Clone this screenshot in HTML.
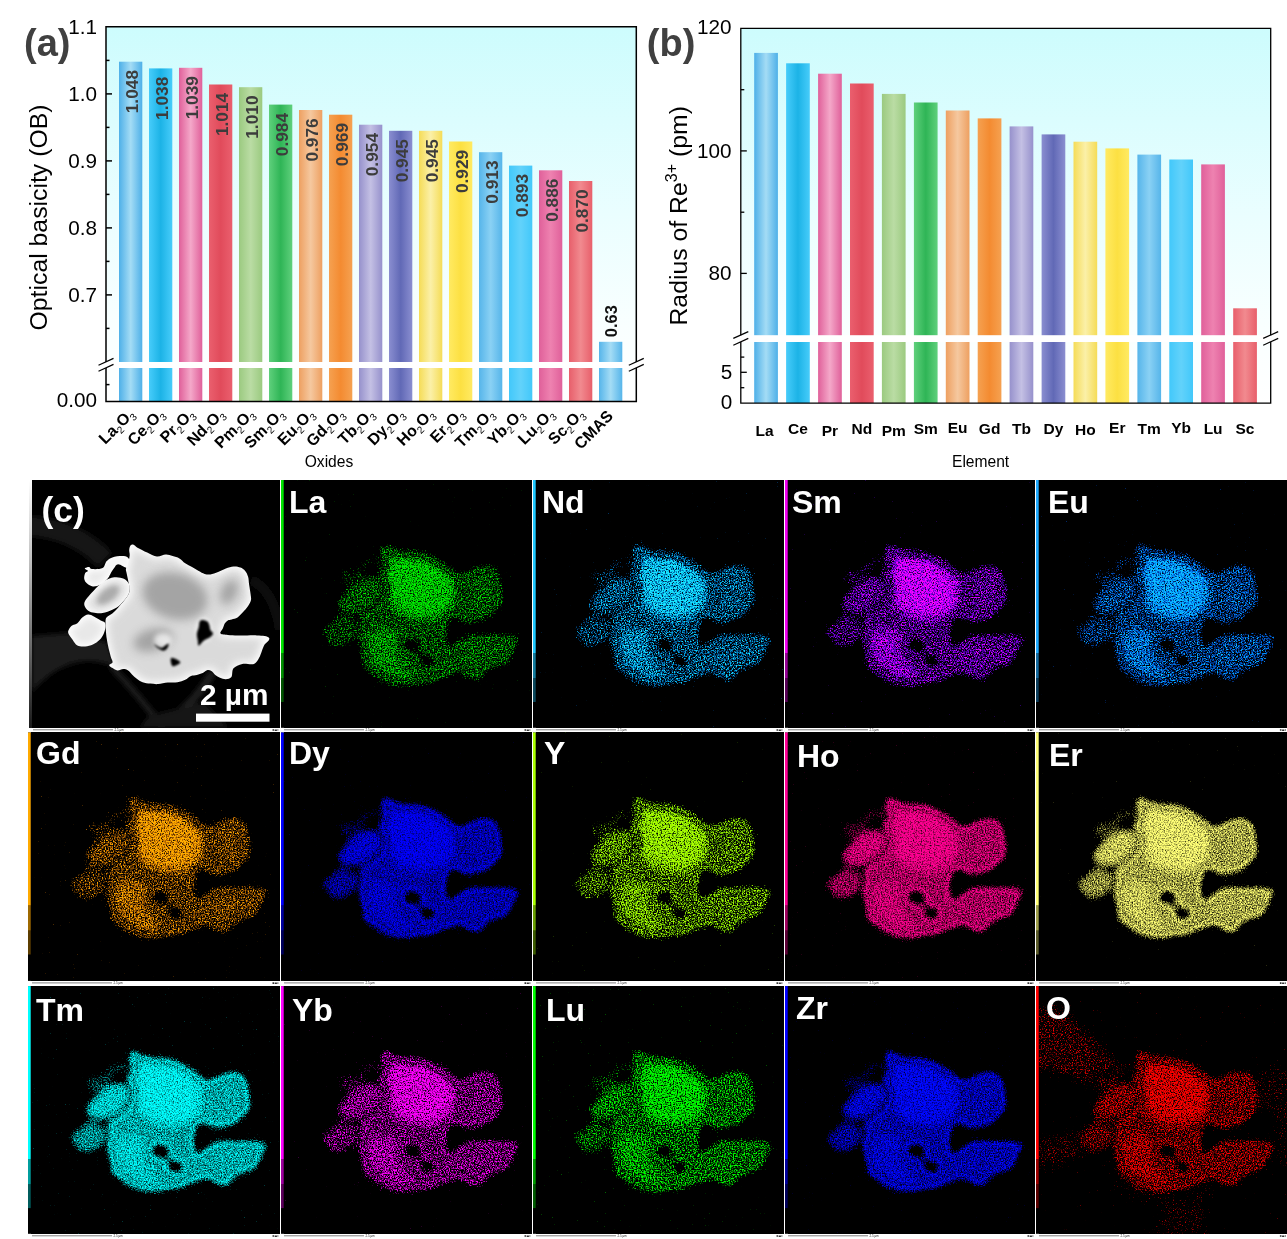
<!DOCTYPE html>
<html lang="en"><head><meta charset="utf-8"><title>Figure</title>
<style>
html,body{margin:0;padding:0;background:#fff;}
body{width:1287px;height:1239px;overflow:hidden;font-family:"Liberation Sans",sans-serif;}
svg{display:block;}
text{font-family:"Liberation Sans",sans-serif;}
.b{font-weight:bold;}
</style></head><body>
<svg width="1287" height="1239" viewBox="0 0 1287 1239">
<defs>
<linearGradient id="gLa" x1="0" x2="1" y1="0" y2="0"><stop offset="0" stop-color="#4eb0e8"/><stop offset="0.5" stop-color="#a4dcf5"/><stop offset="1" stop-color="#4eb0e8"/></linearGradient>
<linearGradient id="gCe" x1="0" x2="1" y1="0" y2="0"><stop offset="0" stop-color="#47ccfa"/><stop offset="0.5" stop-color="#1cb3e6"/><stop offset="1" stop-color="#47ccfa"/></linearGradient>
<linearGradient id="gPr" x1="0" x2="1" y1="0" y2="0"><stop offset="0" stop-color="#e0609a"/><stop offset="0.5" stop-color="#f4a8c9"/><stop offset="1" stop-color="#e0609a"/></linearGradient>
<linearGradient id="gNd" x1="0" x2="1" y1="0" y2="0"><stop offset="0" stop-color="#ea5f6e"/><stop offset="0.5" stop-color="#e14b5b"/><stop offset="1" stop-color="#ea5f6e"/></linearGradient>
<linearGradient id="gPm" x1="0" x2="1" y1="0" y2="0"><stop offset="0" stop-color="#9bca80"/><stop offset="0.5" stop-color="#badca4"/><stop offset="1" stop-color="#9bca80"/></linearGradient>
<linearGradient id="gSm" x1="0" x2="1" y1="0" y2="0"><stop offset="0" stop-color="#5fd07c"/><stop offset="0.5" stop-color="#2fb556"/><stop offset="1" stop-color="#5fd07c"/></linearGradient>
<linearGradient id="gEu" x1="0" x2="1" y1="0" y2="0"><stop offset="0" stop-color="#eea061"/><stop offset="0.5" stop-color="#f5c89f"/><stop offset="1" stop-color="#eea061"/></linearGradient>
<linearGradient id="gGd" x1="0" x2="1" y1="0" y2="0"><stop offset="0" stop-color="#f5a151"/><stop offset="0.5" stop-color="#f48b31"/><stop offset="1" stop-color="#f5a151"/></linearGradient>
<linearGradient id="gTb" x1="0" x2="1" y1="0" y2="0"><stop offset="0" stop-color="#9691cc"/><stop offset="0.5" stop-color="#c4c0e4"/><stop offset="1" stop-color="#9691cc"/></linearGradient>
<linearGradient id="gDy" x1="0" x2="1" y1="0" y2="0"><stop offset="0" stop-color="#8a8ed0"/><stop offset="0.5" stop-color="#6169b6"/><stop offset="1" stop-color="#8a8ed0"/></linearGradient>
<linearGradient id="gHo" x1="0" x2="1" y1="0" y2="0"><stop offset="0" stop-color="#f5dc57"/><stop offset="0.5" stop-color="#fbf0a8"/><stop offset="1" stop-color="#f5dc57"/></linearGradient>
<linearGradient id="gEr" x1="0" x2="1" y1="0" y2="0"><stop offset="0" stop-color="#ffea62"/><stop offset="0.5" stop-color="#fce042"/><stop offset="1" stop-color="#ffea62"/></linearGradient>
<linearGradient id="gTm" x1="0" x2="1" y1="0" y2="0"><stop offset="0" stop-color="#56b5ea"/><stop offset="0.5" stop-color="#8ad1f4"/><stop offset="1" stop-color="#56b5ea"/></linearGradient>
<linearGradient id="gYb" x1="0" x2="1" y1="0" y2="0"><stop offset="0" stop-color="#42c8fa"/><stop offset="0.5" stop-color="#62d2fa"/><stop offset="1" stop-color="#42c8fa"/></linearGradient>
<linearGradient id="gLu" x1="0" x2="1" y1="0" y2="0"><stop offset="0" stop-color="#e0609a"/><stop offset="0.5" stop-color="#ee82b0"/><stop offset="1" stop-color="#e0609a"/></linearGradient>
<linearGradient id="gSc" x1="0" x2="1" y1="0" y2="0"><stop offset="0" stop-color="#e85f6b"/><stop offset="0.5" stop-color="#f18a8f"/><stop offset="1" stop-color="#e85f6b"/></linearGradient>
<linearGradient id="gCMAS" x1="0" x2="1" y1="0" y2="0"><stop offset="0" stop-color="#56b5ea"/><stop offset="0.5" stop-color="#a4dcf5"/><stop offset="1" stop-color="#56b5ea"/></linearGradient>
<linearGradient id="bg" x1="0" x2="0" y1="0" y2="1"><stop offset="0" stop-color="#cdfcfd"/><stop offset="0.5" stop-color="#eafeff"/><stop offset="0.8" stop-color="#f9ffff"/><stop offset="1" stop-color="#ffffff"/></linearGradient>
<path id="sM" d="M101.7 65.3C102.4 64.5 103.5 64.4 104.6 64.8C105.7 65.2 106.2 66.4 108.5 67.7C110.8 69 115 71.1 118.2 72.6C121.4 74.1 124.8 76.2 127.9 76.5C131 76.8 134.2 74.6 136.8 74.5C139.4 74.4 141.3 75.4 143.6 76C145.9 76.6 148.3 77.2 150.4 78.4C152.5 79.6 154.1 81.8 156.2 83.2C158.3 84.7 160.8 85.8 163 87.1C165.2 88.4 167.6 89.9 169.7 91C171.8 92.1 173.6 93.3 175.6 93.9C177.6 94.5 179.2 94.7 181.4 94.4C183.7 94.1 186.5 93 189.1 92C191.7 91 194.3 89.5 196.9 88.6C199.5 87.7 202.2 86.8 204.6 86.6C207 86.4 209.5 86.9 211.4 87.6C213.3 88.3 214.9 89.5 216.2 91C217.5 92.5 218.4 94.5 219.1 96.8C219.8 99.1 219.7 101.7 220.1 104.6C220.5 107.5 221.3 111.6 221.6 114.2C221.9 116.8 222.4 118.1 222 120C221.6 121.9 220.4 123.9 219.1 125.9C217.8 127.8 216.1 129.8 214.3 131.7C212.5 133.6 210.4 136.2 208.5 137.5C206.6 138.8 204.3 138.9 202.7 139.4C201.1 139.9 199.9 139.7 198.8 140.4C197.7 141 196.7 142 195.9 143.3C195.1 144.6 194.7 146.4 194 148.1C193.3 149.8 190.7 152.4 191.5 153.5C192.3 154.6 196 154.6 198.8 154.9C201.6 155.2 205.3 155.3 208.5 155.4C211.7 155.5 215 155.4 218.2 155.4C221.4 155.4 225 155.3 227.9 155.4C230.8 155.5 233.6 155.5 235.6 155.9C237.6 156.3 239.3 157 240 157.8C240.7 158.6 240.2 159.6 239.5 160.7C238.8 161.8 236.7 162.8 235.6 164.6C234.5 166.4 233.6 169.2 232.7 171.4C231.8 173.6 231.3 175.9 230 178C228.7 180.1 227.8 182.9 225 183.9C222.2 184.9 216.7 183.2 213.3 183.9C209.9 184.6 206.3 186.1 204.5 188.3C202.7 190.5 203.7 195.2 202.4 197C201.1 198.8 198.7 199.1 196.8 199.2C194.9 199.3 192.8 198.5 191 197.8C189.2 197.1 187.7 196 186.3 194.9C184.9 193.8 183.7 191.8 182.4 191C181.1 190.2 179.9 189.7 178.5 190C177.1 190.3 175.5 192.2 173.7 193C171.9 193.8 169.8 194.4 167.8 194.9C165.9 195.4 163.9 195.1 162 195.9C160.1 196.7 158.4 198.7 156.2 199.7C153.9 200.8 151.4 201.7 148.5 202.2C145.6 202.7 142 202.3 138.8 202.6C135.6 202.9 132 203.9 129.1 204.1C126.2 204.3 124 203.9 121.4 203.6C118.8 203.3 115.9 203 113.6 202.2C111.3 201.4 109.6 200.1 107.8 198.8C106 197.5 104.5 195.8 103 194.4C101.5 193 100.6 191.4 99.1 190.5C97.6 189.6 96 189.1 94.2 189.1C92.4 189.1 90.2 190.7 88.4 190.5C86.6 190.3 85 189 83.6 188.1C82.2 187.2 80.2 186.2 80.2 185.2C80.2 184.2 83.3 183.7 83.6 182.3C83.8 180.8 82.3 178.8 81.7 176.5C81.1 174.2 80.4 171.6 79.7 168.7C79 165.8 78.3 162.3 77.8 159.1C77.3 155.9 77 152.2 76.8 149.4C76.6 146.6 76.4 144.3 76.5 142.3C76.6 140.3 76.4 138.9 77.5 137.5C78.6 136.1 81.4 135.2 83.3 133.6C85.2 132 86.7 130.5 89.1 127.8C91.5 125 95.9 120 97.8 117.1C99.7 114.2 100.4 112.6 100.7 110.4C101 108.1 100.3 106.4 99.8 103.6C99.3 100.9 98.3 96.3 97.8 93.9C97.3 91.5 96.7 90.7 96.9 89.1C97.1 87.5 98.2 86.5 98.8 84.2C99.4 81.9 100.5 77.9 100.7 75.5C100.9 73.1 100 71.4 100.2 69.7C100.4 68 101 66.1 101.7 65.3Z"/>
<path id="sW" d="M56.2 88.1C56.9 87.8 59 86.9 60.1 87.1C61.2 87.3 60.8 88.9 63 89.1C65.2 89.3 71.2 89.4 73.6 88.1C76 86.8 75.9 83.1 77.5 81.3C79.1 79.5 80.7 78.3 83.3 77.4C85.9 76.5 90.4 76 93 76C95.6 76 97.5 76.3 98.8 77.4C100.1 78.4 101 80.5 101 82.3C101 84.1 101 87.8 99 88.1C97 88.4 91.4 84.2 89.1 84.2C86.8 84.2 86.5 86.5 85.2 88.1C83.9 89.7 82.5 92.1 81.4 93.9C80.3 95.7 80.1 96.9 78.5 98.7C76.9 100.5 74.1 103.3 71.7 104.6C69.3 105.9 66.2 106.7 63.9 106.5C61.6 106.3 59.5 104.9 58.1 103.6C56.6 102.3 55.5 100.5 55.2 98.7C54.9 96.9 55.6 94.2 56.2 92.9C56.9 91.6 59.1 91.6 59.1 91C59.1 90.4 56.7 89.6 56.2 89.1C55.7 88.6 55.6 88.4 56.2 88.1Z"/>
<path id="sE" d="M55.2 123.9C55.2 122 56.5 120.4 58.1 118.1C59.7 115.9 62.2 113.1 64.9 110.4C67.7 107.6 71.2 103.8 74.6 101.6C78 99.4 81.8 97.8 85.2 97.3C88.6 96.8 92.5 97.7 94.9 98.7C97.3 99.8 98.8 101.7 99.8 103.6C100.8 105.6 101 108.1 100.7 110.4C100.4 112.6 99.4 114.7 97.8 117.1C96.2 119.5 93.4 122.8 91 124.9C88.6 127 86.2 128.3 83.3 129.7C80.4 131.1 76.8 132.6 73.6 133.1C70.4 133.6 66.5 133.2 63.9 132.6C61.3 132 59.5 131.2 58.1 129.7C56.6 128.3 55.2 125.8 55.2 123.9Z"/>
<path id="sL" d="M39.2 153C38.7 151.1 40 149.4 40.7 148.1C41.4 146.8 42.3 146 43.6 145.2C44.9 144.4 46.8 144.6 48.4 143.3C50 142 51.5 138.9 53.3 137.5C55.1 136.1 57.2 134.8 59.1 134.6C61 134.4 62.8 135.5 64.9 136.5C67 137.5 69.9 139.4 71.7 140.4C73.5 141.4 74.8 141.2 75.6 142.3C76.4 143.4 76.7 145.3 76.5 147.2C76.3 149.1 75.6 151.8 74.6 153.9C73.6 156 72.5 158 70.7 159.8C68.9 161.6 66.3 163.5 63.9 164.6C61.5 165.7 58.8 166.3 56.2 166.5C53.6 166.7 50.5 166.7 48.4 165.6C46.3 164.5 45.1 161.9 43.6 159.8C42.1 157.7 39.7 154.9 39.2 153Z"/>
<path id="sG" d="M170.7 141.4C171.3 140.2 172.3 139.9 173.6 139.9C174.9 139.9 177.4 140.5 178.5 141.4C179.6 142.3 179.9 143.8 180.4 145.2C180.9 146.7 180.8 148.7 181.4 150.1C182 151.5 184 152.4 184 153.5C184 154.6 183 155.7 181.4 156.9C179.8 158.1 176.6 159.3 174.6 160.7C172.6 162.2 170.7 165.6 169.7 165.6C168.7 165.6 169.1 162.7 168.8 160.7C168.5 158.8 167.7 156.1 167.8 153.9C168 151.6 169.2 149.3 169.7 147.2C170.2 145.1 170 142.6 170.7 141.4Z"/>
<path id="sH1" d="M125.2 164.4C125.2 164.6 127.6 167.2 129.1 168.3C130.6 169.3 132.6 170.6 134 170.7C135.4 170.8 136.8 169.8 137.8 168.7C138.8 167.6 140 164.5 139.8 163.9C139.7 163.3 138 164.2 136.9 164.9C135.8 165.5 134.3 167.5 133 167.8C131.7 168.1 130.4 167.4 129.1 166.8C127.8 166.2 125.2 164.1 125.2 164.4Z"/>
<path id="sH2" d="M142.2 177.9C143.5 177.2 151.2 180.9 151.4 182.3C151.6 183.7 145.1 186.9 143.6 186.2C142.1 185.5 140.9 178.5 142.2 177.9Z"/>
<filter id="sem" x="-10%" y="-10%" width="120%" height="120%" color-interpolation-filters="sRGB">
<feMorphology in="SourceAlpha" operator="erode" radius="2" result="er"/>
<feGaussianBlur in="er" stdDeviation="4.5" result="inner"/>
<feFlood flood-color="#bcbcbc" flood-opacity="0.55"/>
<feComposite in2="inner" operator="in" result="shade"/>
<feGaussianBlur in="SourceGraphic" stdDeviation="0.7" result="src"/>
<feComposite in="shade" in2="src" operator="atop"/>
</filter>
<filter id="semL" x="-10%" y="-10%" width="120%" height="120%" color-interpolation-filters="sRGB">
<feMorphology in="SourceAlpha" operator="erode" radius="2" result="er"/>
<feGaussianBlur in="er" stdDeviation="3.5" result="inner"/>
<feFlood flood-color="#d8d8d8" flood-opacity="0.6"/>
<feComposite in2="inner" operator="in" result="shade"/>
<feGaussianBlur in="SourceGraphic" stdDeviation="0.7" result="src"/>
<feComposite in="shade" in2="src" operator="atop"/>
</filter>
<filter id="bl6" x="-30%" y="-30%" width="160%" height="160%"><feGaussianBlur stdDeviation="5"/></filter>
<filter id="bl4" x="-30%" y="-30%" width="160%" height="160%"><feGaussianBlur stdDeviation="4"/></filter>
<filter id="bl3" x="-30%" y="-30%" width="160%" height="160%"><feGaussianBlur stdDeviation="2.5"/></filter>
<filter id="bl1" x="-30%" y="-30%" width="160%" height="160%"><feGaussianBlur stdDeviation="0.8"/></filter>
<linearGradient id="cbsem" x1="0" x2="0" y1="0" y2="1"><stop offset="0" stop-color="#fff"/><stop offset="0.35" stop-color="#bbb"/><stop offset="1" stop-color="#1a1a1a"/></linearGradient>
<clipPath id="csem"><rect x="0" y="0" width="251" height="248"/></clipPath>
<clipPath id="cM"><use href="#sM"/></clipPath>
<g id="blob"><use href="#sM" fill="#ccc"/>
<g filter="url(#bl4)"><path d="M108 78C112.5 72.3 123.3 73 132 74C140.7 75 153 79.7 160 84C167 88.3 171.8 93.3 174 100C176.2 106.7 175.7 117.8 173 124C170.3 130.2 164.7 134.7 158 137C151.3 139.3 140.3 139.2 133 138C125.7 136.8 118.7 135 114 130C109.3 125 106 116.7 105 108C104 99.3 103.5 83.7 108 78Z" fill="#fff"/><path d="M85 152C88.5 147.3 99.5 147.7 105 148C110.5 148.3 116.2 149.7 118 154C119.8 158.3 114.3 167.8 116 174C117.7 180.2 124.3 186.8 128 191C131.7 195.2 140 197 138 199C136 201 123 203.5 116 203C109 202.5 101.3 200.5 96 196C90.7 191.5 85.8 183.3 84 176C82.2 168.7 81.5 156.7 85 152Z" fill="#e8e8e8"/><g fill="#d4d4d4"><path d="M190 96C193 90.2 205.5 90.3 210 93C214.5 95.7 217.3 105.5 217 112C216.7 118.5 212.2 129.3 208 132C203.8 134.7 195 134 192 128C189 122 187 101.8 190 96Z"/><path d="M172 168C176.8 163.7 195 163 205 162C215 161 228.5 159.7 232 162C235.5 164.3 231.3 171 226 176C220.7 181 208.3 190 200 192C191.7 194 180.7 192 176 188C171.3 184 167.2 172.3 172 168Z"/></g>
<path d="M150 160C160 175 160 190 150 198L172 190L176 168Z" fill="#d2d2d2"/></g>
<path d="M183 140C185.3 136.8 197.3 139.2 203 137C208.7 134.8 213 129.2 217 127C221 124.8 222.7 123.2 227 124C231.3 124.8 240.3 126.5 243 132C245.7 137.5 246.7 152.8 243 157C239.3 161.2 227.7 157.4 221 157.5C214.3 157.6 208.3 157.7 203 157.5C197.7 157.3 192.3 159.4 189 156.5C185.7 153.6 180.7 143.2 183 140Z" fill="#000" opacity="0.55"/>
<path d="M97 139C108 141 118 144 128 150" fill="none" stroke="#000" stroke-width="6" opacity="0.12"/>
<path d="M180 92C181 105 181 118 180 134" fill="none" stroke="#000" stroke-width="5" opacity="0.15"/>
<g fill="none" stroke="#000"><use href="#sW" stroke-width="5"/><use href="#sL" stroke-width="8"/><use href="#sE" stroke-width="8"/></g>
<use href="#sW" fill="#333"/><use href="#sL" fill="#666"/><use href="#sE" fill="#999"/>
<circle cx="91" cy="88" r="5" fill="#000" opacity="0.8"/>
<path d="M180.5 140C181 138.3 182.2 141.5 185 142C187.8 142.5 194.7 142 197 143C199.3 144 199.6 145.8 199 148C198.4 150.2 195.8 154.5 193.5 156C191.2 157.5 186.9 157.7 185 157C183.1 156.3 182.8 154.8 182 152C181.2 149.2 180 141.7 180.5 140Z" fill="#000" opacity="0.8"/>
<use href="#sG" fill="#000" stroke="#000" stroke-width="8"/>
<ellipse cx="131" cy="165" rx="10" ry="7.5" fill="#000"/><ellipse cx="147" cy="181.5" rx="8.5" ry="7" fill="#000"/><path d="M131 166L147 182" stroke="#000" stroke-width="7" opacity="0.75"/></g>
<filter id="fLa" filterUnits="userSpaceOnUse" x="284" y="480" width="247.6" height="247.8" color-interpolation-filters="sRGB"><feGaussianBlur in="SourceGraphic" stdDeviation="3.4"/><feComponentTransfer><feFuncR type="table" tableValues="0.182 0.475 0.543 0.595 0.565 0.759"/></feComponentTransfer><feColorMatrix type="matrix" values="0 0 0 0 0 0 0 0 0 0 0 0 0 0 0 1 0 0 0 0" result="d"/><feTurbulence type="fractalNoise" baseFrequency="0.75" numOctaves="2" seed="2"/><feColorMatrix type="matrix" values="0 0 0 0 0 0 0 0 0 0 0 0 0 0 0 1 0 0 0 0" result="n"/><feComposite in="d" in2="n" operator="arithmetic" k1="0" k2="3" k3="-3" k4="0"/><feColorMatrix type="matrix" values="0 0 0 1 0 0 0 0 1 0 0 0 0 1 0 0 0 0 0 1"/><feComponentTransfer><feFuncR type="table" tableValues="0 0 0 0 0"/><feFuncG type="table" tableValues="0 0.244 0.489 0.733 0.94"/><feFuncB type="table" tableValues="0 0 0 0 0"/></feComponentTransfer><feGaussianBlur stdDeviation="0.5"/></filter>
<filter id="fNd" filterUnits="userSpaceOnUse" x="536" y="480" width="247.6" height="247.8" color-interpolation-filters="sRGB"><feGaussianBlur in="SourceGraphic" stdDeviation="3.4"/><feComponentTransfer><feFuncR type="table" tableValues="0.182 0.479 0.548 0.6 0.57 0.773"/></feComponentTransfer><feColorMatrix type="matrix" values="0 0 0 0 0 0 0 0 0 0 0 0 0 0 0 1 0 0 0 0" result="d"/><feTurbulence type="fractalNoise" baseFrequency="0.75" numOctaves="2" seed="5"/><feColorMatrix type="matrix" values="0 0 0 0 0 0 0 0 0 0 0 0 0 0 0 1 0 0 0 0" result="n"/><feComposite in="d" in2="n" operator="arithmetic" k1="0" k2="3" k3="-3" k4="0"/><feColorMatrix type="matrix" values="0 0 0 1 0 0 0 0 1 0 0 0 0 1 0 0 0 0 0 1"/><feComponentTransfer><feFuncR type="table" tableValues="0 0 0 0.02 0.1"/><feFuncG type="table" tableValues="0 0.2 0.42 0.66 0.9"/><feFuncB type="table" tableValues="0 0.38 0.66 0.88 1"/></feComponentTransfer><feGaussianBlur stdDeviation="0.5"/></filter>
<filter id="fSm" filterUnits="userSpaceOnUse" x="788" y="480" width="246.6" height="247.8" color-interpolation-filters="sRGB"><feGaussianBlur in="SourceGraphic" stdDeviation="3.4"/><feComponentTransfer><feFuncR type="table" tableValues="0.182 0.476 0.545 0.597 0.567 0.763"/></feComponentTransfer><feColorMatrix type="matrix" values="0 0 0 0 0 0 0 0 0 0 0 0 0 0 0 1 0 0 0 0" result="d"/><feTurbulence type="fractalNoise" baseFrequency="0.75" numOctaves="2" seed="7"/><feColorMatrix type="matrix" values="0 0 0 0 0 0 0 0 0 0 0 0 0 0 0 1 0 0 0 0" result="n"/><feComposite in="d" in2="n" operator="arithmetic" k1="0" k2="3" k3="-3" k4="0"/><feColorMatrix type="matrix" values="0 0 0 1 0 0 0 0 1 0 0 0 0 1 0 0 0 0 0 1"/><feComponentTransfer><feFuncR type="table" tableValues="0 0.2 0.42 0.7 1"/><feFuncG type="table" tableValues="0 0 0 0 0"/><feFuncB type="table" tableValues="0 0.45 0.8 1 1"/></feComponentTransfer><feGaussianBlur stdDeviation="0.5"/></filter>
<filter id="fEu" filterUnits="userSpaceOnUse" x="1039" y="480" width="248" height="247.8" color-interpolation-filters="sRGB"><feGaussianBlur in="SourceGraphic" stdDeviation="3.4"/><feComponentTransfer><feFuncR type="table" tableValues="0.182 0.48 0.55 0.602 0.572 0.778"/></feComponentTransfer><feColorMatrix type="matrix" values="0 0 0 0 0 0 0 0 0 0 0 0 0 0 0 1 0 0 0 0" result="d"/><feTurbulence type="fractalNoise" baseFrequency="0.75" numOctaves="2" seed="11"/><feColorMatrix type="matrix" values="0 0 0 0 0 0 0 0 0 0 0 0 0 0 0 1 0 0 0 0" result="n"/><feComposite in="d" in2="n" operator="arithmetic" k1="0" k2="3" k3="-3" k4="0"/><feColorMatrix type="matrix" values="0 0 0 1 0 0 0 0 1 0 0 0 0 1 0 0 0 0 0 1"/><feComponentTransfer><feFuncR type="table" tableValues="0 0 0 0 0.05"/><feFuncG type="table" tableValues="0 0.15 0.3 0.5 0.75"/><feFuncB type="table" tableValues="0 0.4 0.72 0.95 1"/></feComponentTransfer><feGaussianBlur stdDeviation="0.5"/></filter>
<filter id="fGd" filterUnits="userSpaceOnUse" x="31" y="732.5" width="248.6" height="248.4" color-interpolation-filters="sRGB"><feGaussianBlur in="SourceGraphic" stdDeviation="3.4"/><feComponentTransfer><feFuncR type="table" tableValues="0.208 0.481 0.551 0.604 0.574 0.783"/></feComponentTransfer><feColorMatrix type="matrix" values="0 0 0 0 0 0 0 0 0 0 0 0 0 0 0 1 0 0 0 0" result="d"/><feTurbulence type="fractalNoise" baseFrequency="0.75" numOctaves="2" seed="13"/><feColorMatrix type="matrix" values="0 0 0 0 0 0 0 0 0 0 0 0 0 0 0 1 0 0 0 0" result="n"/><feComposite in="d" in2="n" operator="arithmetic" k1="0" k2="3" k3="-3" k4="0"/><feColorMatrix type="matrix" values="0 0 0 1 0 0 0 0 1 0 0 0 0 1 0 0 0 0 0 1"/><feComponentTransfer><feFuncR type="table" tableValues="0 0.27 0.54 0.8 1"/><feFuncG type="table" tableValues="0 0.15 0.3 0.47 0.68"/><feFuncB type="table" tableValues="0 0 0 0 0"/></feComponentTransfer><feGaussianBlur stdDeviation="0.5"/></filter>
<filter id="fDy" filterUnits="userSpaceOnUse" x="284" y="732.5" width="247.6" height="248.4" color-interpolation-filters="sRGB"><feGaussianBlur in="SourceGraphic" stdDeviation="3.1"/><feComponentTransfer><feFuncR type="table" tableValues="0.199 0.597 0.774 0.898 0.802 0.965"/></feComponentTransfer><feColorMatrix type="matrix" values="0 0 0 0 0 0 0 0 0 0 0 0 0 0 0 1 0 0 0 0" result="d"/><feTurbulence type="fractalNoise" baseFrequency="0.75" numOctaves="2" seed="17"/><feColorMatrix type="matrix" values="0 0 0 0 0 0 0 0 0 0 0 0 0 0 0 1 0 0 0 0" result="n"/><feComposite in="d" in2="n" operator="arithmetic" k1="0" k2="1.9" k3="-1.9" k4="0"/><feColorMatrix type="matrix" values="0 0 0 1 0 0 0 0 1 0 0 0 0 1 0 0 0 0 0 1"/><feComponentTransfer><feFuncR type="table" tableValues="0 0 0 0 0"/><feFuncG type="table" tableValues="0 0 0 0 0"/><feFuncB type="table" tableValues="0 0.26 0.52 0.78 1"/></feComponentTransfer><feGaussianBlur stdDeviation="0.5"/></filter>
<filter id="fY" filterUnits="userSpaceOnUse" x="536" y="732.5" width="247.6" height="248.4" color-interpolation-filters="sRGB"><feGaussianBlur in="SourceGraphic" stdDeviation="3.1"/><feComponentTransfer><feFuncR type="table" tableValues="0.177 0.483 0.567 0.627 0.573 0.747"/></feComponentTransfer><feColorMatrix type="matrix" values="0 0 0 0 0 0 0 0 0 0 0 0 0 0 0 1 0 0 0 0" result="d"/><feTurbulence type="fractalNoise" baseFrequency="0.75" numOctaves="2" seed="19"/><feColorMatrix type="matrix" values="0 0 0 0 0 0 0 0 0 0 0 0 0 0 0 1 0 0 0 0" result="n"/><feComposite in="d" in2="n" operator="arithmetic" k1="0" k2="3.5" k3="-3.5" k4="0"/><feColorMatrix type="matrix" values="0 0 0 1 0 0 0 0 1 0 0 0 0 1 0 0 0 0 0 1"/><feComponentTransfer><feFuncR type="table" tableValues="0 0.14 0.3 0.48 0.67"/><feFuncG type="table" tableValues="0 0.27 0.54 0.8 1"/><feFuncB type="table" tableValues="0 0 0 0 0"/></feComponentTransfer><feGaussianBlur stdDeviation="0.5"/></filter>
<filter id="fHo" filterUnits="userSpaceOnUse" x="788" y="732.5" width="246.6" height="248.4" color-interpolation-filters="sRGB"><feGaussianBlur in="SourceGraphic" stdDeviation="3.1"/><feComponentTransfer><feFuncR type="table" tableValues="0.193 0.577 0.737 0.848 0.762 0.91"/></feComponentTransfer><feColorMatrix type="matrix" values="0 0 0 0 0 0 0 0 0 0 0 0 0 0 0 1 0 0 0 0" result="d"/><feTurbulence type="fractalNoise" baseFrequency="0.75" numOctaves="2" seed="23"/><feColorMatrix type="matrix" values="0 0 0 0 0 0 0 0 0 0 0 0 0 0 0 1 0 0 0 0" result="n"/><feComposite in="d" in2="n" operator="arithmetic" k1="0" k2="2.2" k3="-2.2" k4="0"/><feColorMatrix type="matrix" values="0 0 0 1 0 0 0 0 1 0 0 0 0 1 0 0 0 0 0 1"/><feComponentTransfer><feFuncR type="table" tableValues="0 0.26 0.52 0.78 1"/><feFuncG type="table" tableValues="0 0 0 0 0"/><feFuncB type="table" tableValues="0 0.13 0.27 0.42 0.58"/></feComponentTransfer><feGaussianBlur stdDeviation="0.5"/></filter>
<filter id="fEr" filterUnits="userSpaceOnUse" x="1039" y="732.5" width="248" height="248.4" color-interpolation-filters="sRGB"><feGaussianBlur in="SourceGraphic" stdDeviation="3.1"/><feComponentTransfer><feFuncR type="table" tableValues="0.186 0.589 0.761 0.879 0.787 0.945"/></feComponentTransfer><feColorMatrix type="matrix" values="0 0 0 0 0 0 0 0 0 0 0 0 0 0 0 1 0 0 0 0" result="d"/><feTurbulence type="fractalNoise" baseFrequency="0.75" numOctaves="2" seed="29"/><feColorMatrix type="matrix" values="0 0 0 0 0 0 0 0 0 0 0 0 0 0 0 1 0 0 0 0" result="n"/><feComposite in="d" in2="n" operator="arithmetic" k1="0" k2="2" k3="-2" k4="0"/><feColorMatrix type="matrix" values="0 0 0 1 0 0 0 0 1 0 0 0 0 1 0 0 0 0 0 1"/><feComponentTransfer><feFuncR type="table" tableValues="0 0.26 0.52 0.78 1"/><feFuncG type="table" tableValues="0 0.26 0.52 0.78 1"/><feFuncB type="table" tableValues="0 0.1 0.22 0.34 0.47"/></feComponentTransfer><feGaussianBlur stdDeviation="0.5"/></filter>
<filter id="fTm" filterUnits="userSpaceOnUse" x="31" y="986.1" width="248.6" height="247.7" color-interpolation-filters="sRGB"><feGaussianBlur in="SourceGraphic" stdDeviation="3.1"/><feComponentTransfer><feFuncR type="table" tableValues="0.233 0.591 0.764 0.884 0.791 0.952"/></feComponentTransfer><feColorMatrix type="matrix" values="0 0 0 0 0 0 0 0 0 0 0 0 0 0 0 1 0 0 0 0" result="d"/><feTurbulence type="fractalNoise" baseFrequency="0.75" numOctaves="2" seed="31"/><feColorMatrix type="matrix" values="0 0 0 0 0 0 0 0 0 0 0 0 0 0 0 1 0 0 0 0" result="n"/><feComposite in="d" in2="n" operator="arithmetic" k1="0" k2="2" k3="-2" k4="0"/><feColorMatrix type="matrix" values="0 0 0 1 0 0 0 0 1 0 0 0 0 1 0 0 0 0 0 1"/><feComponentTransfer><feFuncR type="table" tableValues="0 0 0 0 0"/><feFuncG type="table" tableValues="0 0.26 0.52 0.78 1"/><feFuncB type="table" tableValues="0 0.26 0.52 0.78 1"/></feComponentTransfer><feGaussianBlur stdDeviation="0.5"/></filter>
<filter id="fYb" filterUnits="userSpaceOnUse" x="284" y="986.1" width="247.6" height="247.7" color-interpolation-filters="sRGB"><feGaussianBlur in="SourceGraphic" stdDeviation="3.1"/><feComponentTransfer><feFuncR type="table" tableValues="0.177 0.48 0.564 0.622 0.57 0.738"/></feComponentTransfer><feColorMatrix type="matrix" values="0 0 0 0 0 0 0 0 0 0 0 0 0 0 0 1 0 0 0 0" result="d"/><feTurbulence type="fractalNoise" baseFrequency="0.75" numOctaves="2" seed="37"/><feColorMatrix type="matrix" values="0 0 0 0 0 0 0 0 0 0 0 0 0 0 0 1 0 0 0 0" result="n"/><feComposite in="d" in2="n" operator="arithmetic" k1="0" k2="3.5" k3="-3.5" k4="0"/><feColorMatrix type="matrix" values="0 0 0 1 0 0 0 0 1 0 0 0 0 1 0 0 0 0 0 1"/><feComponentTransfer><feFuncR type="table" tableValues="0 0.26 0.52 0.78 1"/><feFuncG type="table" tableValues="0 0 0 0 0"/><feFuncB type="table" tableValues="0 0.26 0.52 0.78 1"/></feComponentTransfer><feGaussianBlur stdDeviation="0.5"/></filter>
<filter id="fLu" filterUnits="userSpaceOnUse" x="536" y="986.1" width="247.6" height="247.7" color-interpolation-filters="sRGB"><feGaussianBlur in="SourceGraphic" stdDeviation="3.1"/><feComponentTransfer><feFuncR type="table" tableValues="0.202 0.478 0.56 0.618 0.566 0.729"/></feComponentTransfer><feColorMatrix type="matrix" values="0 0 0 0 0 0 0 0 0 0 0 0 0 0 0 1 0 0 0 0" result="d"/><feTurbulence type="fractalNoise" baseFrequency="0.75" numOctaves="2" seed="41"/><feColorMatrix type="matrix" values="0 0 0 0 0 0 0 0 0 0 0 0 0 0 0 1 0 0 0 0" result="n"/><feComposite in="d" in2="n" operator="arithmetic" k1="0" k2="3.5" k3="-3.5" k4="0"/><feColorMatrix type="matrix" values="0 0 0 1 0 0 0 0 1 0 0 0 0 1 0 0 0 0 0 1"/><feComponentTransfer><feFuncR type="table" tableValues="0 0 0 0 0"/><feFuncG type="table" tableValues="0 0.26 0.52 0.78 1"/><feFuncB type="table" tableValues="0 0 0 0 0"/></feComponentTransfer><feGaussianBlur stdDeviation="0.5"/></filter>
<filter id="fZr" filterUnits="userSpaceOnUse" x="788" y="986.1" width="246.6" height="247.7" color-interpolation-filters="sRGB"><feGaussianBlur in="SourceGraphic" stdDeviation="3.1"/><feComponentTransfer><feFuncR type="table" tableValues="0.193 0.577 0.737 0.848 0.762 0.91"/></feComponentTransfer><feColorMatrix type="matrix" values="0 0 0 0 0 0 0 0 0 0 0 0 0 0 0 1 0 0 0 0" result="d"/><feTurbulence type="fractalNoise" baseFrequency="0.75" numOctaves="2" seed="43"/><feColorMatrix type="matrix" values="0 0 0 0 0 0 0 0 0 0 0 0 0 0 0 1 0 0 0 0" result="n"/><feComposite in="d" in2="n" operator="arithmetic" k1="0" k2="2.2" k3="-2.2" k4="0"/><feColorMatrix type="matrix" values="0 0 0 1 0 0 0 0 1 0 0 0 0 1 0 0 0 0 0 1"/><feComponentTransfer><feFuncR type="table" tableValues="0 0 0 0 0"/><feFuncG type="table" tableValues="0 0 0 0 0.04"/><feFuncB type="table" tableValues="0 0.26 0.52 0.78 1"/></feComponentTransfer><feGaussianBlur stdDeviation="0.5"/></filter>
<filter id="fO" filterUnits="userSpaceOnUse" x="1039" y="986.1" width="248" height="247.7" color-interpolation-filters="sRGB"><feGaussianBlur in="SourceGraphic" stdDeviation="3.1"/><feComponentTransfer><feFuncR type="table" tableValues="0.21 0.478 0.56 0.618 0.566 0.729"/></feComponentTransfer><feColorMatrix type="matrix" values="0 0 0 0 0 0 0 0 0 0 0 0 0 0 0 1 0 0 0 0" result="d"/><feTurbulence type="fractalNoise" baseFrequency="0.75" numOctaves="2" seed="47"/><feColorMatrix type="matrix" values="0 0 0 0 0 0 0 0 0 0 0 0 0 0 0 1 0 0 0 0" result="n"/><feComposite in="d" in2="n" operator="arithmetic" k1="0" k2="3.5" k3="-3.5" k4="0"/><feColorMatrix type="matrix" values="0 0 0 1 0 0 0 0 1 0 0 0 0 1 0 0 0 0 0 1"/><feComponentTransfer><feFuncR type="table" tableValues="0 0.26 0.52 0.78 1"/><feFuncG type="table" tableValues="0 0 0 0 0"/><feFuncB type="table" tableValues="0 0 0 0 0"/></feComponentTransfer><feGaussianBlur stdDeviation="0.5"/></filter>
</defs>
<rect x="106" y="26.7" width="530.3" height="374.9" fill="url(#bg)"/>
<rect x="119" y="61.7" width="23.3" height="339.9" fill="url(#gLa)"/>
<rect x="149" y="68.4" width="23.3" height="333.2" fill="url(#gCe)"/>
<rect x="179" y="67.8" width="23.3" height="333.8" fill="url(#gPr)"/>
<rect x="209" y="84.5" width="23.3" height="317.1" fill="url(#gNd)"/>
<rect x="239" y="87.2" width="23.3" height="314.4" fill="url(#gPm)"/>
<rect x="269" y="104.6" width="23.3" height="297" fill="url(#gSm)"/>
<rect x="299" y="110" width="23.3" height="291.6" fill="url(#gEu)"/>
<rect x="329" y="114.7" width="23.3" height="286.9" fill="url(#gGd)"/>
<rect x="359" y="124.7" width="23.3" height="276.9" fill="url(#gTb)"/>
<rect x="389" y="130.8" width="23.3" height="270.8" fill="url(#gDy)"/>
<rect x="419" y="130.8" width="23.3" height="270.8" fill="url(#gHo)"/>
<rect x="449" y="141.5" width="23.3" height="260.1" fill="url(#gEr)"/>
<rect x="479" y="152.2" width="23.3" height="249.4" fill="url(#gTm)"/>
<rect x="509" y="165.6" width="23.3" height="236" fill="url(#gYb)"/>
<rect x="539" y="170.3" width="23.3" height="231.3" fill="url(#gLu)"/>
<rect x="569" y="181" width="23.3" height="220.6" fill="url(#gSc)"/>
<rect x="599" y="341.8" width="23.3" height="59.8" fill="url(#gCMAS)"/>
<rect x="104" y="362" width="534.3" height="6" fill="#fff"/>
<g stroke="#000" stroke-width="1.5" fill="none" stroke-linecap="butt">
<path d="M106 362V26.7H636.3V362"/>
<path d="M106 368V401.6H636.3V368"/>
<path d="M106 93.9h6"/>
<path d="M106 160.9h6"/>
<path d="M106 227.9h6"/>
<path d="M106 294.9h6"/>
<path d="M106 60.4h3.5"/>
<path d="M106 127.4h3.5"/>
<path d="M106 194.4h3.5"/>
<path d="M106 261.4h3.5"/>
<path d="M106 328.4h3.5"/>
<path d="M106 384.6h3.5"/>
<path stroke-width="1.2" d="M98.5 365.2L113.5 358.4"/>
<path stroke-width="1.2" d="M98.5 371.2L113.5 364.4"/>
<path stroke-width="1.2" d="M628.8 365.2L643.8 358.4"/>
<path stroke-width="1.2" d="M628.8 371.2L643.8 364.4"/>
</g>
<text x="97" y="33.8" font-size="20.7" text-anchor="end" fill="#000">1.1</text>
<text x="97" y="100.8" font-size="20.7" text-anchor="end" fill="#000">1.0</text>
<text x="97" y="167.8" font-size="20.7" text-anchor="end" fill="#000">0.9</text>
<text x="97" y="234.8" font-size="20.7" text-anchor="end" fill="#000">0.8</text>
<text x="97" y="301.8" font-size="20.7" text-anchor="end" fill="#000">0.7</text>
<text x="97" y="407.4" font-size="20.7" text-anchor="end" fill="#000">0.00</text>
<text transform="translate(47.2 217.5) rotate(-90)" font-size="24.8" text-anchor="middle" fill="#000">Optical basicity (OB)</text>
<text x="24" y="55.6" font-size="38" class="b" fill="#404040">(a)</text>
<text x="329" y="466.7" font-size="15.6" text-anchor="middle" fill="#000">Oxides</text>
<text transform="translate(137.6 70) rotate(-90)" font-size="17.3" class="b" fill="#3c3c3c" text-anchor="end">1.048</text>
<text transform="translate(135.2 415) rotate(-45)" font-size="16" class="b" fill="#000" text-anchor="end">La<tspan font-size="10" font-weight="normal" dy="3.5">2</tspan><tspan dy="-3.5">O</tspan><tspan font-size="10" font-weight="normal" dy="3.5">3</tspan></text>
<text transform="translate(167.6 76.7) rotate(-90)" font-size="17.3" class="b" fill="#3c3c3c" text-anchor="end">1.038</text>
<text transform="translate(165.2 415) rotate(-45)" font-size="16" class="b" fill="#000" text-anchor="end">Ce<tspan font-size="10" font-weight="normal" dy="3.5">2</tspan><tspan dy="-3.5">O</tspan><tspan font-size="10" font-weight="normal" dy="3.5">3</tspan></text>
<text transform="translate(197.6 76.1) rotate(-90)" font-size="17.3" class="b" fill="#3c3c3c" text-anchor="end">1.039</text>
<text transform="translate(195.2 415) rotate(-45)" font-size="16" class="b" fill="#000" text-anchor="end">Pr<tspan font-size="10" font-weight="normal" dy="3.5">2</tspan><tspan dy="-3.5">O</tspan><tspan font-size="10" font-weight="normal" dy="3.5">3</tspan></text>
<text transform="translate(227.6 92.8) rotate(-90)" font-size="17.3" class="b" fill="#3c3c3c" text-anchor="end">1.014</text>
<text transform="translate(225.2 415) rotate(-45)" font-size="16" class="b" fill="#000" text-anchor="end">Nd<tspan font-size="10" font-weight="normal" dy="3.5">2</tspan><tspan dy="-3.5">O</tspan><tspan font-size="10" font-weight="normal" dy="3.5">3</tspan></text>
<text transform="translate(257.6 95.5) rotate(-90)" font-size="17.3" class="b" fill="#3c3c3c" text-anchor="end">1.010</text>
<text transform="translate(255.2 415) rotate(-45)" font-size="16" class="b" fill="#000" text-anchor="end">Pm<tspan font-size="10" font-weight="normal" dy="3.5">2</tspan><tspan dy="-3.5">O</tspan><tspan font-size="10" font-weight="normal" dy="3.5">3</tspan></text>
<text transform="translate(287.5 112.9) rotate(-90)" font-size="17.3" class="b" fill="#3c3c3c" text-anchor="end">0.984</text>
<text transform="translate(285.1 415) rotate(-45)" font-size="16" class="b" fill="#000" text-anchor="end">Sm<tspan font-size="10" font-weight="normal" dy="3.5">2</tspan><tspan dy="-3.5">O</tspan><tspan font-size="10" font-weight="normal" dy="3.5">3</tspan></text>
<text transform="translate(317.5 118.3) rotate(-90)" font-size="17.3" class="b" fill="#3c3c3c" text-anchor="end">0.976</text>
<text transform="translate(315.1 415) rotate(-45)" font-size="16" class="b" fill="#000" text-anchor="end">Eu<tspan font-size="10" font-weight="normal" dy="3.5">2</tspan><tspan dy="-3.5">O</tspan><tspan font-size="10" font-weight="normal" dy="3.5">3</tspan></text>
<text transform="translate(347.5 123) rotate(-90)" font-size="17.3" class="b" fill="#3c3c3c" text-anchor="end">0.969</text>
<text transform="translate(345.1 415) rotate(-45)" font-size="16" class="b" fill="#000" text-anchor="end">Gd<tspan font-size="10" font-weight="normal" dy="3.5">2</tspan><tspan dy="-3.5">O</tspan><tspan font-size="10" font-weight="normal" dy="3.5">3</tspan></text>
<text transform="translate(377.5 133) rotate(-90)" font-size="17.3" class="b" fill="#3c3c3c" text-anchor="end">0.954</text>
<text transform="translate(375.1 415) rotate(-45)" font-size="16" class="b" fill="#000" text-anchor="end">Tb<tspan font-size="10" font-weight="normal" dy="3.5">2</tspan><tspan dy="-3.5">O</tspan><tspan font-size="10" font-weight="normal" dy="3.5">3</tspan></text>
<text transform="translate(407.5 139.1) rotate(-90)" font-size="17.3" class="b" fill="#3c3c3c" text-anchor="end">0.945</text>
<text transform="translate(405.1 415) rotate(-45)" font-size="16" class="b" fill="#000" text-anchor="end">Dy<tspan font-size="10" font-weight="normal" dy="3.5">2</tspan><tspan dy="-3.5">O</tspan><tspan font-size="10" font-weight="normal" dy="3.5">3</tspan></text>
<text transform="translate(437.5 139.1) rotate(-90)" font-size="17.3" class="b" fill="#3c3c3c" text-anchor="end">0.945</text>
<text transform="translate(435.1 415) rotate(-45)" font-size="16" class="b" fill="#000" text-anchor="end">Ho<tspan font-size="10" font-weight="normal" dy="3.5">2</tspan><tspan dy="-3.5">O</tspan><tspan font-size="10" font-weight="normal" dy="3.5">3</tspan></text>
<text transform="translate(467.5 149.8) rotate(-90)" font-size="17.3" class="b" fill="#3c3c3c" text-anchor="end">0.929</text>
<text transform="translate(465.1 415) rotate(-45)" font-size="16" class="b" fill="#000" text-anchor="end">Er<tspan font-size="10" font-weight="normal" dy="3.5">2</tspan><tspan dy="-3.5">O</tspan><tspan font-size="10" font-weight="normal" dy="3.5">3</tspan></text>
<text transform="translate(497.5 160.5) rotate(-90)" font-size="17.3" class="b" fill="#3c3c3c" text-anchor="end">0.913</text>
<text transform="translate(495.1 415) rotate(-45)" font-size="16" class="b" fill="#000" text-anchor="end">Tm<tspan font-size="10" font-weight="normal" dy="3.5">2</tspan><tspan dy="-3.5">O</tspan><tspan font-size="10" font-weight="normal" dy="3.5">3</tspan></text>
<text transform="translate(527.5 173.9) rotate(-90)" font-size="17.3" class="b" fill="#3c3c3c" text-anchor="end">0.893</text>
<text transform="translate(525.1 415) rotate(-45)" font-size="16" class="b" fill="#000" text-anchor="end">Yb<tspan font-size="10" font-weight="normal" dy="3.5">2</tspan><tspan dy="-3.5">O</tspan><tspan font-size="10" font-weight="normal" dy="3.5">3</tspan></text>
<text transform="translate(557.5 178.6) rotate(-90)" font-size="17.3" class="b" fill="#3c3c3c" text-anchor="end">0.886</text>
<text transform="translate(555.1 415) rotate(-45)" font-size="16" class="b" fill="#000" text-anchor="end">Lu<tspan font-size="10" font-weight="normal" dy="3.5">2</tspan><tspan dy="-3.5">O</tspan><tspan font-size="10" font-weight="normal" dy="3.5">3</tspan></text>
<text transform="translate(587.5 189.3) rotate(-90)" font-size="17.3" class="b" fill="#3c3c3c" text-anchor="end">0.870</text>
<text transform="translate(585.1 415) rotate(-45)" font-size="16" class="b" fill="#000" text-anchor="end">Sc<tspan font-size="10" font-weight="normal" dy="3.5">2</tspan><tspan dy="-3.5">O</tspan><tspan font-size="10" font-weight="normal" dy="3.5">3</tspan></text>
<text transform="translate(617.1 337.3) rotate(-90)" font-size="16.5" class="b" fill="#111" text-anchor="start">0.63</text>
<text transform="translate(614.1 417) rotate(-45)" font-size="16" class="b" fill="#000" text-anchor="end">CMAS</text>
<rect x="740.8" y="28.4" width="529.9" height="374.7" fill="url(#bg)"/>
<rect x="754.2" y="52.9" width="23.7" height="350.2" fill="url(#gLa)"/>
<rect x="786.1" y="63.3" width="23.7" height="339.8" fill="url(#gCe)"/>
<rect x="818.1" y="73.7" width="23.7" height="329.4" fill="url(#gPr)"/>
<rect x="850" y="83.5" width="23.7" height="319.6" fill="url(#gNd)"/>
<rect x="881.9" y="93.9" width="23.7" height="309.2" fill="url(#gPm)"/>
<rect x="913.9" y="102.5" width="23.7" height="300.6" fill="url(#gSm)"/>
<rect x="945.8" y="110.5" width="23.7" height="292.6" fill="url(#gEu)"/>
<rect x="977.7" y="118.4" width="23.7" height="284.7" fill="url(#gGd)"/>
<rect x="1009.6" y="126.4" width="23.7" height="276.7" fill="url(#gTb)"/>
<rect x="1041.6" y="134.4" width="23.7" height="268.7" fill="url(#gDy)"/>
<rect x="1073.5" y="141.7" width="23.7" height="261.4" fill="url(#gHo)"/>
<rect x="1105.4" y="148.4" width="23.7" height="254.7" fill="url(#gEr)"/>
<rect x="1137.4" y="154.6" width="23.7" height="248.5" fill="url(#gTm)"/>
<rect x="1169.3" y="159.5" width="23.7" height="243.6" fill="url(#gYb)"/>
<rect x="1201.2" y="164.4" width="23.7" height="238.7" fill="url(#gLu)"/>
<rect x="1233.2" y="308.3" width="23.7" height="94.8" fill="url(#gSc)"/>
<rect x="738.8" y="335.2" width="533.9" height="6.8" fill="#fff"/>
<g stroke="#000" stroke-width="1.3" fill="none" stroke-linecap="butt">
<path d="M740.8 335.2V28.4H1270.7V335.2"/>
<path d="M740.8 342V403.1H1270.7V342"/>
<path d="M740.8 150.9h6"/>
<path d="M740.8 273.4h6"/>
<path d="M740.8 372.3h6"/>
<path d="M740.8 89.7h3.5"/>
<path d="M740.8 212.2h3.5"/>
<path d="M740.8 357.1h3.5"/>
<path d="M740.8 387.7h3.5"/>
<path stroke-width="1.2" d="M733.3 338.4L748.3 331.6"/>
<path stroke-width="1.2" d="M733.3 345.2L748.3 338.4"/>
<path stroke-width="1.2" d="M1263.2 338.4L1278.2 331.6"/>
<path stroke-width="1.2" d="M1263.2 345.2L1278.2 338.4"/>
</g>
<text x="731.5" y="34" font-size="20.7" text-anchor="end" fill="#000">120</text>
<text x="731.5" y="157.8" font-size="20.7" text-anchor="end" fill="#000">100</text>
<text x="731.5" y="280.3" font-size="20.7" text-anchor="end" fill="#000">80</text>
<text x="732.3" y="378.7" font-size="20.7" text-anchor="end" fill="#000">5</text>
<text x="732.3" y="408.7" font-size="20.7" text-anchor="end" fill="#000">0</text>
<text transform="translate(687 215.8) rotate(-90)" font-size="24.8" text-anchor="middle" fill="#000">Radius of Re<tspan font-size="16" dy="-10">3+</tspan><tspan dy="10"> (pm)</tspan></text>
<text x="646.8" y="55.6" font-size="38" class="b" fill="#404040">(b)</text>
<text x="980.6" y="466.7" font-size="15.6" text-anchor="middle" fill="#000">Element</text>
<text x="764.6" y="435.7" font-size="15.5" class="b" fill="#000" text-anchor="middle">La</text>
<text x="798" y="434.2" font-size="15.5" class="b" fill="#000" text-anchor="middle">Ce</text>
<text x="829.9" y="435.7" font-size="15.5" class="b" fill="#000" text-anchor="middle">Pr</text>
<text x="861.8" y="433.7" font-size="15.5" class="b" fill="#000" text-anchor="middle">Nd</text>
<text x="893.8" y="435.7" font-size="15.5" class="b" fill="#000" text-anchor="middle">Pm</text>
<text x="925.7" y="433.7" font-size="15.5" class="b" fill="#000" text-anchor="middle">Sm</text>
<text x="957.6" y="433.4" font-size="15.5" class="b" fill="#000" text-anchor="middle">Eu</text>
<text x="989.6" y="433.7" font-size="15.5" class="b" fill="#000" text-anchor="middle">Gd</text>
<text x="1021.5" y="433.7" font-size="15.5" class="b" fill="#000" text-anchor="middle">Tb</text>
<text x="1053.4" y="433.7" font-size="15.5" class="b" fill="#000" text-anchor="middle">Dy</text>
<text x="1085.3" y="435" font-size="15.5" class="b" fill="#000" text-anchor="middle">Ho</text>
<text x="1117.3" y="433.4" font-size="15.5" class="b" fill="#000" text-anchor="middle">Er</text>
<text x="1149.2" y="433.7" font-size="15.5" class="b" fill="#000" text-anchor="middle">Tm</text>
<text x="1181.1" y="433.4" font-size="15.5" class="b" fill="#000" text-anchor="middle">Yb</text>
<text x="1213.1" y="433.7" font-size="15.5" class="b" fill="#000" text-anchor="middle">Lu</text>
<text x="1245" y="433.7" font-size="15.5" class="b" fill="#000" text-anchor="middle">Sc</text>
<rect x="28" y="480" width="1259" height="759" fill="#fff"/>
<rect x="29" y="480" width="250.6" height="247.8" fill="#000"/>
<g transform="translate(29 480)" clip-path="url(#csem)">
<rect x="3" y="0" width="248" height="248" fill="#000"/>
<g filter="url(#bl3)"><path d="M0 46C30 48 55 58 76 80" fill="none" stroke="#171717" stroke-width="20"/><path d="M3 156L40 153L78 162L86 186L70 182C50 178 25 186 3 212Z" fill="#1b1b1b"/><path d="M82 186C100 205 115 222 134 248" fill="none" stroke="#242424" stroke-width="5"/><path d="M184 192C172 212 160 226 140 240" fill="none" stroke="#222" stroke-width="7"/><path d="M120 236L175 222L200 248L110 248Z" fill="#181818"/><path d="M222 100C240 108 248 130 251 150" fill="none" stroke="#0e0e0e" stroke-width="10"/></g>
<g filter="url(#semL)" fill="#fff"><use href="#sW"/><use href="#sL"/></g>
<g filter="url(#sem)" fill="#fff"><use href="#sM"/></g>
<g clip-path="url(#cM)"><g filter="url(#bl6)" fill="#848484" opacity="0.62"><ellipse cx="146" cy="116" rx="33" ry="23" transform="rotate(15 146 116)"/><ellipse cx="124" cy="160" rx="20" ry="11" transform="rotate(-15 124 160)"/><ellipse cx="200" cy="112" rx="8" ry="13" transform="rotate(25 200 112)"/></g><g filter="url(#bl3)" fill="#fff" opacity="0.7"><ellipse cx="134" cy="160" rx="9" ry="7"/><ellipse cx="175" cy="150" rx="8" ry="12"/></g></g>
<g filter="url(#sem)" fill="#fff"><use href="#sE"/></g>
<g filter="url(#bl3)"><ellipse cx="79" cy="115" rx="13" ry="6.5" transform="rotate(-38 79 115)" fill="#7c7c7c" opacity="0.5"/></g>
<g filter="url(#bl1)" fill="#000"><use href="#sG"/><use href="#sH1"/><use href="#sH2"/></g>
</g>
<rect x="29" y="480" width="3" height="247.8" fill="url(#cbsem)"/>
<text x="41.5" y="521.5" font-size="35.5" class="b" fill="#fff">(c)</text>
<text x="200" y="705" font-size="29.8" class="b" fill="#fff">2 µm</text>
<rect x="196" y="713.6" width="73.5" height="8.1" fill="#fff"/>
<path d="M33 729.8h80" stroke="#4a4a4a" stroke-width="0.7"/>
<text x="114.5" y="731" font-size="3" fill="#222">2.5 µm</text>
<path d="M272.5 730h1.6M274.7 730.2h2.2M277.5 730h0.8" stroke="#333" stroke-width="1.6" fill="none"/>
<rect x="281" y="480" width="250.6" height="247.8" fill="#000"/>
<g filter="url(#fLa)"><rect x="284" y="480" width="247.6" height="247.8" fill="#000"/>
<use href="#blob" transform="translate(284.5 481.3) scale(0.975 0.99)"/>
</g>
<g fill="#00e600"><rect x="281" y="480" width="2.7" height="173"/><rect x="281" y="653" width="2.7" height="25" opacity="0.62"/><rect x="281" y="678" width="2.7" height="24" opacity="0.36"/></g>
<text x="289" y="513.3" font-size="32" class="b" fill="#fff">La</text>
<path d="M284 729.8h80" stroke="#4a4a4a" stroke-width="0.7"/>
<text x="365.5" y="731" font-size="3" fill="#222">2.5 µm</text>
<path d="M524.5 730h1.6M526.7 730.2h2.2M529.5 730h0.8" stroke="#333" stroke-width="1.6" fill="none"/>
<rect x="533" y="480" width="250.6" height="247.8" fill="#000"/>
<g filter="url(#fNd)"><rect x="536" y="480" width="247.6" height="247.8" fill="#000"/>
<use href="#blob" transform="translate(536.5 481.3) scale(0.975 0.99)"/>
</g>
<g fill="#1ec8ff"><rect x="533" y="480" width="2.7" height="173"/><rect x="533" y="653" width="2.7" height="25" opacity="0.62"/><rect x="533" y="678" width="2.7" height="24" opacity="0.36"/></g>
<text x="542" y="512.5" font-size="32" class="b" fill="#fff">Nd</text>
<path d="M536 729.8h80" stroke="#4a4a4a" stroke-width="0.7"/>
<text x="617.5" y="731" font-size="3" fill="#222">2.5 µm</text>
<path d="M776.5 730h1.6M778.7 730.2h2.2M781.5 730h0.8" stroke="#333" stroke-width="1.6" fill="none"/>
<rect x="785" y="480" width="249.6" height="247.8" fill="#000"/>
<g filter="url(#fSm)"><rect x="788" y="480" width="246.6" height="247.8" fill="#000"/>
<use href="#blob" transform="translate(788.5 481.3) scale(0.975 0.99)"/>
</g>
<g fill="#f000f0"><rect x="785" y="480" width="2.7" height="173"/><rect x="785" y="653" width="2.7" height="25" opacity="0.62"/><rect x="785" y="678" width="2.7" height="24" opacity="0.36"/></g>
<text x="792" y="512.8" font-size="32" class="b" fill="#fff">Sm</text>
<path d="M788 729.8h80" stroke="#4a4a4a" stroke-width="0.7"/>
<text x="869.5" y="731" font-size="3" fill="#222">2.5 µm</text>
<path d="M1027.5 730h1.6M1029.7 730.2h2.2M1032.5 730h0.8" stroke="#333" stroke-width="1.6" fill="none"/>
<rect x="1036" y="480" width="251" height="247.8" fill="#000"/>
<g filter="url(#fEu)"><rect x="1039" y="480" width="248" height="247.8" fill="#000"/>
<use href="#blob" transform="translate(1039.5 481.3) scale(0.975 0.99)"/>
</g>
<g fill="#1eaaff"><rect x="1036" y="480" width="2.7" height="173"/><rect x="1036" y="653" width="2.7" height="25" opacity="0.62"/><rect x="1036" y="678" width="2.7" height="24" opacity="0.36"/></g>
<text x="1048" y="512.6" font-size="32" class="b" fill="#fff">Eu</text>
<path d="M1039 729.8h80" stroke="#4a4a4a" stroke-width="0.7"/>
<text x="1120.5" y="731" font-size="3" fill="#222">2.5 µm</text>
<path d="M1279.9 730h1.6M1282.1 730.2h2.2M1284.9 730h0.8" stroke="#333" stroke-width="1.6" fill="none"/>
<rect x="28" y="732.5" width="251.6" height="248.4" fill="#000"/>
<g filter="url(#fGd)"><rect x="31" y="732.5" width="248.6" height="248.4" fill="#000"/>
<use href="#blob" transform="translate(32.5 733.8) scale(0.975 0.99)"/>
</g>
<g fill="#ffaa00"><rect x="28" y="732.5" width="2.7" height="173"/><rect x="28" y="905.5" width="2.7" height="25" opacity="0.62"/><rect x="28" y="930.5" width="2.7" height="24" opacity="0.36"/></g>
<text x="36" y="763.9" font-size="32" class="b" fill="#fff">Gd</text>
<path d="M32 982.9h80" stroke="#4a4a4a" stroke-width="0.7"/>
<text x="113.5" y="984.1" font-size="3" fill="#222">2.5 µm</text>
<path d="M272.5 983.1h1.6M274.7 983.3h2.2M277.5 983.1h0.8" stroke="#333" stroke-width="1.6" fill="none"/>
<rect x="281" y="732.5" width="250.6" height="248.4" fill="#000"/>
<g filter="url(#fDy)"><rect x="284" y="732.5" width="247.6" height="248.4" fill="#000"/>
<use href="#blob" transform="translate(284.5 733.8) scale(0.975 0.99)"/>
</g>
<g fill="#0000ff"><rect x="281" y="732.5" width="2.7" height="173"/><rect x="281" y="905.5" width="2.7" height="25" opacity="0.62"/><rect x="281" y="930.5" width="2.7" height="24" opacity="0.36"/></g>
<text x="289" y="763.7" font-size="32" class="b" fill="#fff">Dy</text>
<path d="M284 982.9h80" stroke="#4a4a4a" stroke-width="0.7"/>
<text x="365.5" y="984.1" font-size="3" fill="#222">2.5 µm</text>
<path d="M524.5 983.1h1.6M526.7 983.3h2.2M529.5 983.1h0.8" stroke="#333" stroke-width="1.6" fill="none"/>
<rect x="533" y="732.5" width="250.6" height="248.4" fill="#000"/>
<g filter="url(#fY)"><rect x="536" y="732.5" width="247.6" height="248.4" fill="#000"/>
<use href="#blob" transform="translate(536.5 733.8) scale(0.975 0.99)"/>
</g>
<g fill="#aaff00"><rect x="533" y="732.5" width="2.7" height="173"/><rect x="533" y="905.5" width="2.7" height="25" opacity="0.62"/><rect x="533" y="930.5" width="2.7" height="24" opacity="0.36"/></g>
<text x="544" y="763.9" font-size="32" class="b" fill="#fff">Y</text>
<path d="M536 982.9h80" stroke="#4a4a4a" stroke-width="0.7"/>
<text x="617.5" y="984.1" font-size="3" fill="#222">2.5 µm</text>
<path d="M776.5 983.1h1.6M778.7 983.3h2.2M781.5 983.1h0.8" stroke="#333" stroke-width="1.6" fill="none"/>
<rect x="785" y="732.5" width="249.6" height="248.4" fill="#000"/>
<g filter="url(#fHo)"><rect x="788" y="732.5" width="246.6" height="248.4" fill="#000"/>
<use href="#blob" transform="translate(788.5 733.8) scale(0.975 0.99)"/>
</g>
<g fill="#ff0096"><rect x="785" y="732.5" width="2.7" height="173"/><rect x="785" y="905.5" width="2.7" height="25" opacity="0.62"/><rect x="785" y="930.5" width="2.7" height="24" opacity="0.36"/></g>
<text x="797" y="766.8" font-size="32" class="b" fill="#fff">Ho</text>
<path d="M788 982.9h80" stroke="#4a4a4a" stroke-width="0.7"/>
<text x="869.5" y="984.1" font-size="3" fill="#222">2.5 µm</text>
<path d="M1027.5 983.1h1.6M1029.7 983.3h2.2M1032.5 983.1h0.8" stroke="#333" stroke-width="1.6" fill="none"/>
<rect x="1036" y="732.5" width="251" height="248.4" fill="#000"/>
<g filter="url(#fEr)"><rect x="1039" y="732.5" width="248" height="248.4" fill="#000"/>
<use href="#blob" transform="translate(1039.5 733.8) scale(0.975 0.99)"/>
</g>
<g fill="#ffff78"><rect x="1036" y="732.5" width="2.7" height="173"/><rect x="1036" y="905.5" width="2.7" height="25" opacity="0.62"/><rect x="1036" y="930.5" width="2.7" height="24" opacity="0.36"/></g>
<text x="1049" y="765.8" font-size="32" class="b" fill="#fff">Er</text>
<path d="M1039 982.9h80" stroke="#4a4a4a" stroke-width="0.7"/>
<text x="1120.5" y="984.1" font-size="3" fill="#222">2.5 µm</text>
<path d="M1279.9 983.1h1.6M1282.1 983.3h2.2M1284.9 983.1h0.8" stroke="#333" stroke-width="1.6" fill="none"/>
<rect x="28" y="986.1" width="251.6" height="247.7" fill="#000"/>
<g filter="url(#fTm)"><rect x="31" y="986.1" width="248.6" height="247.7" fill="#000"/>
<use href="#blob" transform="translate(32.5 987.4) scale(0.975 0.99)"/>
</g>
<g fill="#00ffff"><rect x="28" y="986.1" width="2.7" height="173"/><rect x="28" y="1159.1" width="2.7" height="25" opacity="0.62"/><rect x="28" y="1184.1" width="2.7" height="24" opacity="0.36"/></g>
<text x="36" y="1020.8" font-size="32" class="b" fill="#fff">Tm</text>
<path d="M32 1235.8h80" stroke="#4a4a4a" stroke-width="0.7"/>
<text x="113.5" y="1237" font-size="3" fill="#222">2.5 µm</text>
<path d="M272.5 1236h1.6M274.7 1236.2h2.2M277.5 1236h0.8" stroke="#333" stroke-width="1.6" fill="none"/>
<rect x="281" y="986.1" width="250.6" height="247.7" fill="#000"/>
<g filter="url(#fYb)"><rect x="284" y="986.1" width="247.6" height="247.7" fill="#000"/>
<use href="#blob" transform="translate(284.5 987.4) scale(0.975 0.99)"/>
</g>
<g fill="#ff00ff"><rect x="281" y="986.1" width="2.7" height="173"/><rect x="281" y="1159.1" width="2.7" height="25" opacity="0.62"/><rect x="281" y="1184.1" width="2.7" height="24" opacity="0.36"/></g>
<text x="292" y="1020.8" font-size="32" class="b" fill="#fff">Yb</text>
<path d="M284 1235.8h80" stroke="#4a4a4a" stroke-width="0.7"/>
<text x="365.5" y="1237" font-size="3" fill="#222">2.5 µm</text>
<path d="M524.5 1236h1.6M526.7 1236.2h2.2M529.5 1236h0.8" stroke="#333" stroke-width="1.6" fill="none"/>
<rect x="533" y="986.1" width="250.6" height="247.7" fill="#000"/>
<g filter="url(#fLu)"><rect x="536" y="986.1" width="247.6" height="247.7" fill="#000"/>
<use href="#blob" transform="translate(536.5 987.4) scale(0.975 0.99)"/>
</g>
<g fill="#00ff00"><rect x="533" y="986.1" width="2.7" height="173"/><rect x="533" y="1159.1" width="2.7" height="25" opacity="0.62"/><rect x="533" y="1184.1" width="2.7" height="24" opacity="0.36"/></g>
<text x="546" y="1020.8" font-size="32" class="b" fill="#fff">Lu</text>
<path d="M536 1235.8h80" stroke="#4a4a4a" stroke-width="0.7"/>
<text x="617.5" y="1237" font-size="3" fill="#222">2.5 µm</text>
<path d="M776.5 1236h1.6M778.7 1236.2h2.2M781.5 1236h0.8" stroke="#333" stroke-width="1.6" fill="none"/>
<rect x="785" y="986.1" width="249.6" height="247.7" fill="#000"/>
<g filter="url(#fZr)"><rect x="788" y="986.1" width="246.6" height="247.7" fill="#000"/>
<use href="#blob" transform="translate(788.5 987.4) scale(0.975 0.99)"/>
</g>
<g fill="#0000ff"><rect x="785" y="986.1" width="2.7" height="173"/><rect x="785" y="1159.1" width="2.7" height="25" opacity="0.62"/><rect x="785" y="1184.1" width="2.7" height="24" opacity="0.36"/></g>
<text x="796" y="1018.8" font-size="32" class="b" fill="#fff">Zr</text>
<path d="M788 1235.8h80" stroke="#4a4a4a" stroke-width="0.7"/>
<text x="869.5" y="1237" font-size="3" fill="#222">2.5 µm</text>
<path d="M1027.5 1236h1.6M1029.7 1236.2h2.2M1032.5 1236h0.8" stroke="#333" stroke-width="1.6" fill="none"/>
<rect x="1036" y="986.1" width="251" height="247.7" fill="#000"/>
<g filter="url(#fO)"><rect x="1039" y="986.1" width="248" height="247.7" fill="#000"/>
<g transform="translate(1036 986.1)" filter="url(#bl4)"><path d="M0 22L28 20L50 45L75 70L100 84L100 112L70 108L35 92L0 82Z" fill="#3a3a3a"/><path d="M0 152L25 148L50 140L62 150L50 170L22 180L0 186Z" fill="#2e2e2e"/><path d="M78 196C95 210 120 216 145 214C160 212 170 206 180 198" fill="none" stroke="#2a2a2a" stroke-width="7"/><path d="M128 214L172 206L168 250L118 250Z" fill="#262626"/><path d="M214 88L252 78L252 185L238 180L240 150L222 120Z" fill="#262626"/></g>
<use href="#blob" transform="translate(1039.5 987.4) scale(0.975 0.99)"/>
</g>
<g fill="#ff0000"><rect x="1036" y="986.1" width="2.7" height="173"/><rect x="1036" y="1159.1" width="2.7" height="25" opacity="0.62"/><rect x="1036" y="1184.1" width="2.7" height="24" opacity="0.36"/></g>
<text x="1046" y="1018.5" font-size="32" class="b" fill="#fff">O</text>
<path d="M1039 1235.8h80" stroke="#4a4a4a" stroke-width="0.7"/>
<text x="1120.5" y="1237" font-size="3" fill="#222">2.5 µm</text>
<path d="M1279.9 1236h1.6M1282.1 1236.2h2.2M1284.9 1236h0.8" stroke="#333" stroke-width="1.6" fill="none"/>
</svg>
</body></html>
